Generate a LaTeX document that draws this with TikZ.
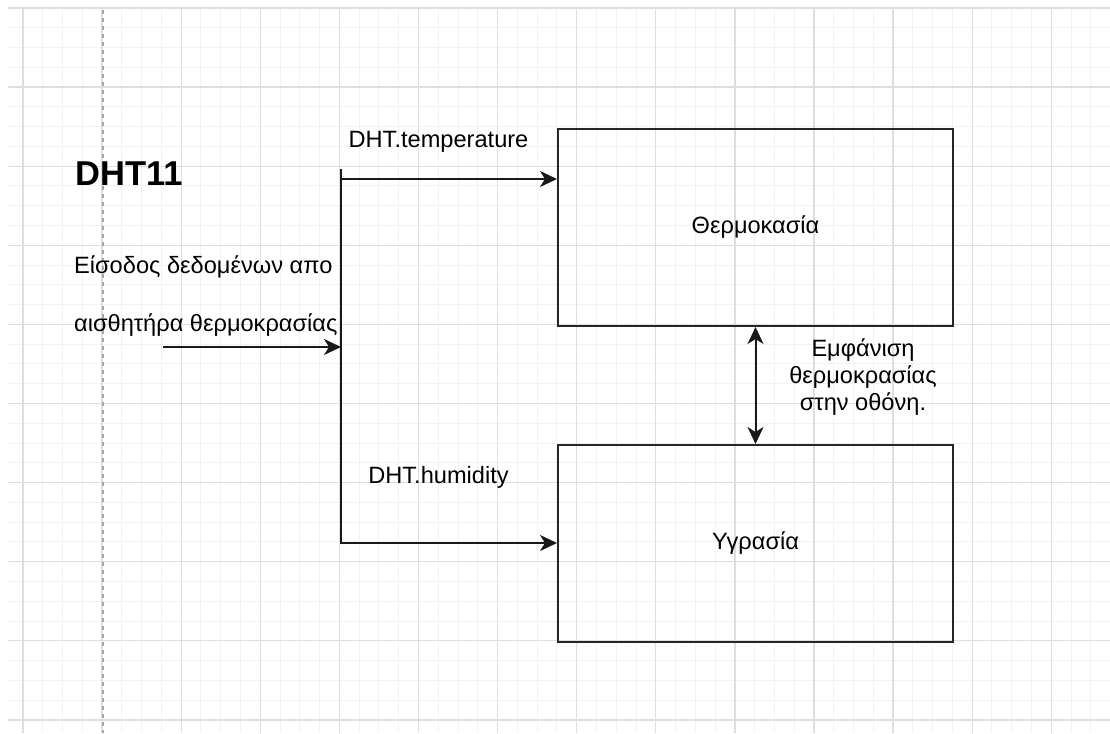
\documentclass[tikz,border=0pt]{standalone}
\usepackage{fontspec}
\setmainfont{Liberation Sans}
\usetikzlibrary{arrows.meta}

\tikzset{
	minorline/.style={draw=black!5, line width=1pt},
	majorline/.style={draw=black!13, line width=1.3pt},
	block/.style={draw=black!85, line width=2pt, minimum width=395pt, minimum height=197pt, inner sep=0pt, font=\fontsize{23.6}{27}\selectfont},
	wire/.style={draw=black!90, line width=2pt},
	txt/.style={inner sep=0pt, font=\fontsize{23.6}{27}\selectfont},
	>={Stealth[length=17pt, width=16pt, inset=5pt]}
}

\begin{document}
\begin{tikzpicture}[x=1pt, y=-1pt]
\fill[white] (0,0) rectangle (1110,733);
\useasboundingbox (0,0) rectangle (1110,733);

\foreach \k in {0,...,55}
	\draw[minorline] ({23+19.775*\k},8) -- ({23+19.775*\k},733);
\foreach \k in {0,...,36}
	\draw[minorline] (8,{8+19.775*\k}) -- (1110,{8+19.775*\k});
\foreach \k in {0,...,13}
	\draw[majorline] ({23+79.1*\k},8) -- ({23+79.1*\k},733);
\foreach \k in {0,...,9}
	\draw[majorline] (8,{8+79.1*\k}) -- (1110,{8+79.1*\k});
\draw[draw=black!35, line width=1.3pt, dash pattern=on 4pt off 4pt] (103,10) -- (103,733);

\node[block] (temp) at (755.5,227.5) {Θερμοκασία};
\node[block] (hum) at (755.5,543.5) {Υγρασία};

\node[txt, anchor=base west, font=\fontsize{34.5}{40}\selectfont\bfseries] (dht) at (75,185) {DHT11};
\node[txt, anchor=base west] (input1) at (74,273.3) {Είσοδος δεδομένων απο};
\node[txt, anchor=base west] (input2) at (74,331.7) {αισθητήρα θερμοκρασίας};
\node[txt, anchor=base] (templbl) at (438.5,147) {DHT.temperature};
\node[txt, anchor=base] (humlbl) at (438.5,483.3) {DHT.humidity};
\node[txt, align=center, font=\fontsize{23.6}{26.7}\selectfont] (showlbl) at (863,377) {Εμφάνιση\\θερμοκρασίας\\στην οθόνη.};

\coordinate (bustop) at (341,169);
\coordinate (busbot) at (341,543);
\coordinate (tempin) at (341,179);
\coordinate (src) at (163,347);

\draw[wire, ->] (bustop) -- (busbot) -- (busbot -| hum.west);
\draw[wire, ->] (tempin) -- (tempin -| temp.west);
\draw[wire, ->] (src) -- (src -| bustop);
\draw[wire, <->] (temp.south) -- (hum.north);
\end{tikzpicture}
\end{document}
